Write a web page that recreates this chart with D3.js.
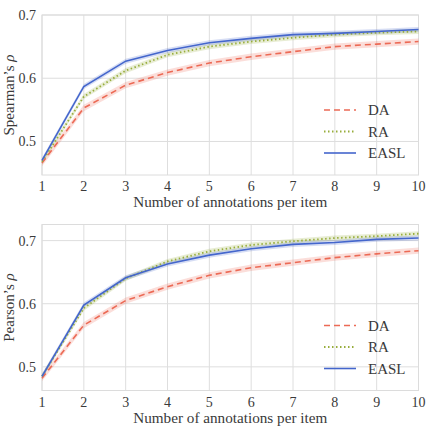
<!DOCTYPE html>
<html>
<head>
<meta charset="utf-8">
<script src="https://cdn.jsdelivr.net/npm/d3@7"></script>
<style>
  body { margin: 0; background: #fff; }
  text { font-family: "Liberation Serif", "DejaVu Serif", serif; fill: #3a3a3a; }
</style>
</head>
<body>
<svg width="427" height="427"></svg>
<script>
const annotations = [1, 2, 3, 4, 5, 6, 7, 8, 9, 10]
const methods = ["DA", "RA", "EASL"]

// Spearman's rho per number of annotations
const spearman_da = [0.466, 0.553, 0.589, 0.609, 0.624, 0.634, 0.642, 0.650, 0.654, 0.658]
const spearman_ra = [0.468, 0.571, 0.612, 0.637, 0.650, 0.658, 0.664, 0.669, 0.672, 0.674]
const spearman_easl = [0.470, 0.587, 0.627, 0.644, 0.656, 0.663, 0.669, 0.671, 0.674, 0.677]

// Pearson's rho per number of annotations
const pearson_da = [0.482, 0.566, 0.605, 0.627, 0.645, 0.657, 0.665, 0.673, 0.679, 0.684]
const pearson_ra = [0.485, 0.593, 0.640, 0.667, 0.683, 0.693, 0.699, 0.704, 0.707, 0.711]
const pearson_easl = [0.485, 0.598, 0.641, 0.663, 0.677, 0.687, 0.694, 0.697, 0.702, 0.704]

// half width of the shaded band
const band = { DA: 0.005, RA: 0.004, EASL: 0.004 }

const y_ticks = [0.5, 0.6, 0.7]
const x_label = "Number of annotations per item"

const colors = { DA: "#ec6a55", RA: "#98ad3c", EASL: "#4466cc" }
const dashes = { DA: "6,4", RA: "1.5,2.5", EASL: null }

const svg = d3.select("svg")
const x_scale = d3.scaleLinear([1, 10], [42, 418.5])

const panels = [
  { label: "Spearman\u2019s ", series: [spearman_da, spearman_ra, spearman_easl],
    domain: [0.447, 0.7], top: 15, bottom: 175, legend_y: 110 },
  { label: "Pearson\u2019s ", series: [pearson_da, pearson_ra, pearson_easl],
    domain: [0.4625, 0.7255], top: 224.5, bottom: 390.5, legend_y: 325.5 }
]

panels.forEach(p => {
  const y_scale = d3.scaleLinear(p.domain, [p.bottom, p.top])
  const g = svg.append("g")

  // grid
  g.selectAll(".gx").data(annotations).join("line")
    .attr("x1", d => x_scale(d)).attr("x2", d => x_scale(d))
    .attr("y1", p.top).attr("y2", p.bottom)
    .style("stroke", "#dedede").style("stroke-width", 1)
  g.selectAll(".gy").data(y_ticks).join("line")
    .attr("x1", x_scale(1)).attr("x2", x_scale(10))
    .attr("y1", d => y_scale(d)).attr("y2", d => y_scale(d))
    .style("stroke", "#dedede").style("stroke-width", 1)
  g.append("rect")
    .attr("x", x_scale(1)).attr("y", p.top)
    .attr("width", x_scale(10) - x_scale(1)).attr("height", p.bottom - p.top)
    .style("fill", "none").style("stroke", "#dcdcdc").style("stroke-width", 1)

  // bands then lines
  methods.forEach((m, i) => {
    const vals = p.series[i]
    const area = d3.area()
      .x((d, j) => x_scale(annotations[j]))
      .y0(d => y_scale(d - band[m]))
      .y1(d => y_scale(d + band[m]))
    g.append("path").attr("d", area(vals))
      .style("fill", colors[m]).style("opacity", 0.22)
  })
  methods.forEach((m, i) => {
    const vals = p.series[i]
    const line = d3.line().x((d, j) => x_scale(annotations[j])).y(d => y_scale(d))
    g.append("path").attr("d", line(vals))
      .style("fill", "none").style("stroke", colors[m])
      .style("stroke-width", m === "RA" ? 1.8 : 1.6)
      .style("stroke-dasharray", dashes[m])
  })

  // ticks
  g.selectAll(".tx").data(annotations).join("text")
    .attr("x", d => x_scale(d)).attr("y", p.bottom + 16)
    .attr("text-anchor", "middle").style("font-size", "14px")
    .text(d => d)
  g.selectAll(".ty").data(y_ticks).join("text")
    .attr("x", x_scale(1) - 6).attr("y", d => y_scale(d) + 5)
    .attr("text-anchor", "end").style("font-size", "14px")
    .text(d => d3.format(".1f")(d))

  // axis labels
  g.append("text")
    .attr("x", (x_scale(1) + x_scale(10)) / 2).attr("y", p.bottom + 32)
    .attr("text-anchor", "middle").style("font-size", "15.2px")
    .text(x_label)
  const yl = g.append("text")
    .attr("transform", `translate(14,${(p.top + p.bottom) / 2}) rotate(-90)`)
    .attr("text-anchor", "middle").style("font-size", "15px")
  yl.append("tspan").text(p.label)
  yl.append("tspan").style("font-style", "italic").text("\u03c1")

  // legend
  methods.forEach((m, i) => {
    const ly = p.legend_y + i * 21.5
    g.append("line")
      .attr("x1", 324).attr("x2", 356).attr("y1", ly).attr("y2", ly)
      .style("stroke", colors[m]).style("stroke-width", m === "RA" ? 1.8 : 1.6)
      .style("stroke-dasharray", dashes[m])
    g.append("text")
      .attr("x", 368).attr("y", ly + 5).style("font-size", "15px")
      .text(m)
  })
})
</script>
</body>
</html>
